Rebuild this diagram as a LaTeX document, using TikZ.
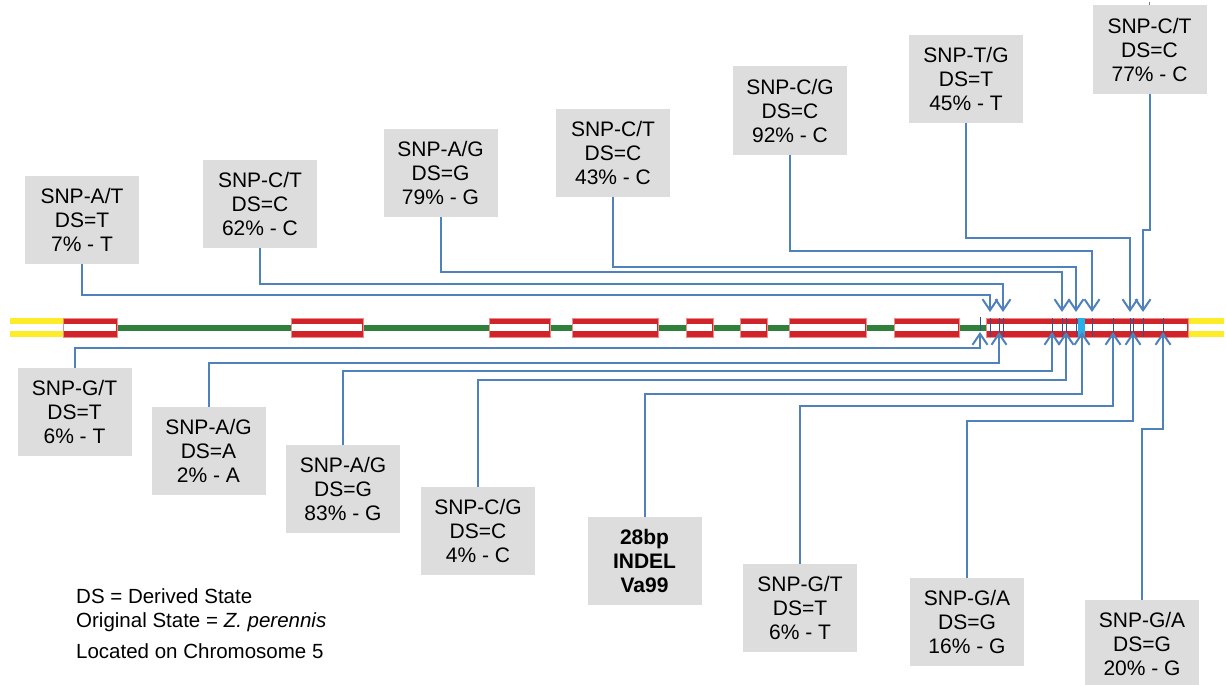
\documentclass[tikz,border=0pt]{standalone}
\usepackage{fontspec}
\setmainfont{Liberation Sans}
\usetikzlibrary{arrows.meta}
\definecolor{linkblue}{RGB}{79,129,189}
\definecolor{boxgray}{RGB}{221,221,221}
\definecolor{exonred}{RGB}{208,35,42}
\definecolor{exonedge}{RGB}{236,140,140}
\definecolor{introngreen}{RGB}{46,128,58}
\definecolor{utryellow}{RGB}{255,236,40}
\definecolor{indelcyan}{RGB}{40,176,232}
\definecolor{ticknavy}{RGB}{50,80,150}
\tikzset{
  snpbox/.style={fill=boxgray, draw=none, minimum width=114pt, minimum height=88pt,
    inner sep=0pt, align=center, font=\fontsize{21}{24}\selectfont},
  legendtext/.style={anchor=base west, inner sep=0pt, font=\fontsize{20.5}{22}\selectfont},
  link/.style={draw=linkblue, line width=2pt, -{Straight Barb[length=11pt,width=15pt]}},
  tickmark/.style={draw=ticknavy, line width=0.8pt}
}
\begin{document}
\begin{tikzpicture}[x=1pt,y=-1pt]
\useasboundingbox (0,0) rectangle (1226,685);
% ---- gene model ----
\fill[introngreen] (117,324.5) rectangle (986,330.5);
\fill[utryellow] (10,318) rectangle (63,323.5);
\fill[utryellow] (10,331) rectangle (63,336.5);
\fill[utryellow] (1188,318) rectangle (1224,323.5);
\fill[utryellow] (1188,331) rectangle (1224,336.5);
\foreach \a/\b in {63/117, 291/363, 489/550, 572/658, 686/713, 740/767, 789/866, 894/959, 986/1188}{
  \fill[exonred] (\a,318) rectangle (\b,337);
  \fill[white] (\a+0.8,324) rectangle (\b-0.8,331);
  \draw[exonedge, line width=0.5pt] (\a,318) rectangle (\b,337);
}
\fill[indelcyan] (1078,318) rectangle (1085,337);
\foreach \x in {990,999,1003,1052,1062,1066,1076,1092,1113,1130,1133,1143,1163}{
  \draw[tickmark] (\x,318) -- (\x,337);
}
\draw[tickmark] (980,317) -- (980,331);
% ---- top boxes ----
\node[snpbox] (t1) at (82,220) {SNP-A/T\\DS=T\\7\% - T};
\node[snpbox] (t2) at (260,204) {SNP-C/T\\DS=C\\62\% - C};
\node[snpbox] (t3) at (440.5,173) {SNP-A/G\\DS=G\\79\% - G};
\node[snpbox] (t4) at (613,152.5) {SNP-C/T\\DS=C\\43\% - C};
\node[snpbox] (t5) at (790,110.5) {SNP-C/G\\DS=C\\92\% - C};
\node[snpbox] (t6) at (966,79) {SNP-T/G\\DS=T\\45\% - T};
\node[snpbox] (t7) at (1149.5,49.5) {SNP-C/T\\DS=C\\77\% - C};
% ---- bottom boxes ----
\node[snpbox] (b1) at (74.5,412) {SNP-G/T\\DS=T\\6\% - T};
\node[snpbox] (b2) at (208.5,451) {SNP-A/G\\DS=A\\2\% - A};
\node[snpbox] (b3) at (343,489) {SNP-A/G\\DS=G\\83\% - G};
\node[snpbox] (b4) at (478,531) {SNP-C/G\\DS=C\\4\% - C};
\node[snpbox, font=\fontsize{21}{24}\selectfont\bfseries] (b5) at (644.5,561) {28bp\\INDEL\\Va99};
\node[snpbox] (b6) at (800,608) {SNP-G/T\\DS=T\\6\% - T};
\node[snpbox] (b7) at (967,622) {SNP-G/A\\DS=G\\16\% - G};
\node[snpbox] (b8) at (1142,644) {SNP-G/A\\DS=G\\20\% - G};
% ---- top connectors ----
\coordinate (th1) at (990,295);  \coordinate (ta1) at (990,312);
\coordinate (th2) at (1003,284); \coordinate (ta2) at (1003,312);
\coordinate (th3) at (1062,272); \coordinate (ta3) at (1062,312);
\coordinate (th4) at (1076,267); \coordinate (ta4) at (1076,312);
\coordinate (th5) at (1092,251); \coordinate (ta5) at (1092,312);
\coordinate (th6) at (1130,238); \coordinate (ta6) at (1130,312);
\coordinate (th7) at (1143,230); \coordinate (ta7) at (1143,312);
\draw[link] (t1.south) |- (th1) -- (ta1);
\draw[link] (t2.south) |- (th2) -- (ta2);
\draw[link] (t3.south) |- (th3) -- (ta3);
\draw[link] (t4.south) |- (th4) -- (ta4);
\draw[link] (t5.south) |- (th5) -- (ta5);
\draw[link] (t6.south) |- (th6) -- (ta6);
\draw[link] (t7.south) |- (th7) -- (ta7);
\coordinate (stub) at (1149.5,2);
\draw[linkblue!50!gray, line width=1pt] (stub) -- (t7.north);
% ---- bottom connectors ----
\coordinate (bh1) at (980,348);  \coordinate (ba1) at (980,332);
\coordinate (bh2) at (999,363);  \coordinate (ba2) at (999,332);
\coordinate (bh3) at (1052,371); \coordinate (ba3) at (1052,332);
\coordinate (bh4) at (1066,380); \coordinate (ba4) at (1066,332);
\coordinate (bh5) at (1082,394); \coordinate (ba5) at (1082,332);
\coordinate (bh6) at (1113,406); \coordinate (ba6) at (1113,332);
\coordinate (bh7) at (1133,421); \coordinate (ba7) at (1133,332);
\coordinate (bh8) at (1163,429); \coordinate (ba8) at (1163,332);
\draw[link] (b1.north) |- (bh1) -- (ba1);
\draw[link] (b2.north) |- (bh2) -- (ba2);
\draw[link] (b3.north) |- (bh3) -- (ba3);
\draw[link] (b4.north) |- (bh4) -- (ba4);
\draw[link] (b5.north) |- (bh5) -- (ba5);
\draw[link] (b6.north) |- (bh6) -- (ba6);
\draw[link] (b7.north) |- (bh7) -- (ba7);
\draw[link] (b8.north) |- (bh8) -- (ba8);
% ---- legend ----
\node[legendtext] (lg1) at (76,603) {DS = Derived State};
\node[legendtext] (lg2) at (76,627) {Original State = \textit{Z. perennis}};
\node[legendtext] (lg3) at (76,658) {Located on Chromosome 5};
\end{tikzpicture}
\end{document}
